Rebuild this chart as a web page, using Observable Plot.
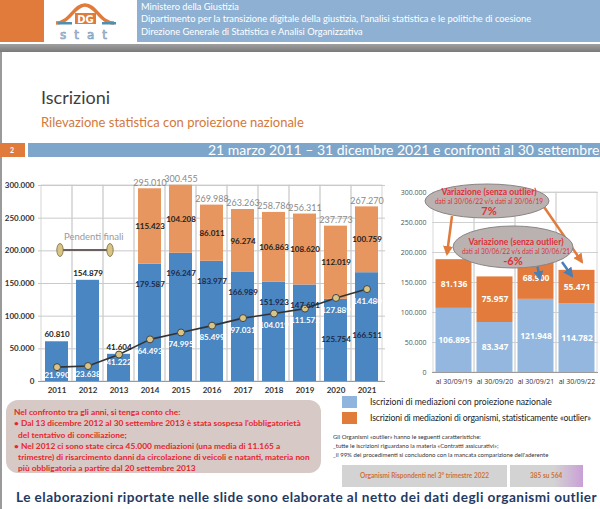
<!DOCTYPE html>
<html><head><meta charset="utf-8">
<script src="https://cdn.jsdelivr.net/npm/d3@7"></script>
<script src="https://cdn.jsdelivr.net/npm/@observablehq/plot@0.6"></script>
<style>
body{margin:0;background:#fff;}
#slide{position:relative;width:600px;height:509px;overflow:hidden;font-family:Lato,"Open Sans",sans-serif;background:#fff;}
.abs{position:absolute;white-space:nowrap;}
</style></head><body>
<div id="slide">
  <div class="abs" style="left:0;top:0;width:44px;height:42px;background:#e07b3c"></div>
  <svg class="abs" style="left:48px;top:1px" width="86" height="42" viewBox="0 0 86 42">
    <path d="M8,22 C22,22 26,4 37,4 C48,4 52,22 66,22" fill="none" stroke="#e07b3c" stroke-width="3.5"/>
    <rect x="10" y="21" width="14" height="2.5" fill="#4f8fb0"/>
    <rect x="54" y="21" width="14" height="2.5" fill="#4f8fb0"/>
    <rect x="27" y="12" width="21" height="11" fill="#e07b3c"/>
    <text x="37.5" y="21.5" text-anchor="middle" font-family="DejaVu Sans" font-weight="bold" font-size="10" fill="#fff">DG</text>
    <text x="12" y="38" font-family="DejaVu Sans" font-size="12" fill="#dce6ef" stroke="#7f9fbd" stroke-width="0.7" letter-spacing="8">stat</text>
  </svg>
  <div class="abs" style="left:137px;top:0;width:463px;height:42px;background:#8eb1d3;color:#fff;font-size:9.3px;line-height:12.3px;padding:1px 0 0 4px;box-sizing:border-box;overflow:hidden">
    Ministero della Giustizia<br>Dipartimento per la transizione digitale della giustizia, l'analisi statistica e le politiche di coesione<br>Direzione Generale di Statistica e Analisi Organizzativa
  </div>
  <div class="abs" style="left:0;top:44px;width:600px;height:8px;background:linear-gradient(#a0a0a0,#7a7a7a)"></div>
  <div class="abs" style="left:0;top:52px;width:2px;height:457px;background:#9a9a9a"></div>
  <div class="abs" style="left:41px;top:86px;font-size:18px;color:#3e3e3e">Iscrizioni</div>
  <div class="abs" style="left:41px;top:114px;font-size:13px;color:#d4783a">Rilevazione statistica con proiezione nazionale</div>
  <div class="abs" style="left:0;top:143px;width:25px;height:14px;background:#e07b3c;color:#fff;font-size:7px;font-weight:bold;line-height:14px;padding-left:10px;box-sizing:border-box">2</div>
  <div class="abs" style="left:28px;top:143px;width:572px;height:14px;background:#7ea6ca"></div>
  <div class="abs" style="left:208px;top:141px;color:#fff;font-size:14px;line-height:17px">21 marzo 2011 – 31 dicembre 2021 e confronti al 30 settembre</div>

  <div id="leftChart" class="abs" style="left:0;top:165px"></div>
  <div id="rightChart" class="abs" style="left:392px;top:180px"></div>

  <svg class="abs" style="left:0;top:0;pointer-events:none" width="600" height="509">
    <defs>
      <marker id="ao" viewBox="0 0 10 10" refX="8" refY="5" markerWidth="4" markerHeight="4" orient="auto"><path d="M0,0L10,5L0,10z" fill="#e07b3c"/></marker>
      <marker id="ab" viewBox="0 0 10 10" refX="8" refY="5" markerWidth="4" markerHeight="4" orient="auto"><path d="M0,0L10,5L0,10z" fill="#4a7fb5"/></marker>
    </defs>
    <text x="64" y="240" font-family="Lato" font-size="9.5" fill="#9a9a9a">Pendenti finali</text>
    <line x1="60" y1="250" x2="110" y2="250" stroke="#6a6060" stroke-width="2"/>
    <ellipse cx="60" cy="250" rx="3.2" ry="6.5" fill="#d8c485" stroke="#7a6a40" stroke-width="0.8"/>
    <ellipse cx="110" cy="250" rx="3.2" ry="6.5" fill="#d8c485" stroke="#7a6a40" stroke-width="0.8"/>

    <line x1="452" y1="216" x2="447" y2="254" stroke="#e07b3c" stroke-width="2.5" marker-end="url(#ao)"/>
    <line x1="542" y1="204" x2="582" y2="262" stroke="#e07b3c" stroke-width="2.5" marker-end="url(#ao)"/>
    <ellipse cx="487" cy="201" rx="62" ry="17" fill="#b9b2b0" stroke="#8a8585" stroke-width="1"/>
    <text x="489" y="195" text-anchor="middle" font-family="Lato" font-weight="bold" font-size="8.6" fill="#e0303a">Variazione (senza outlier)</text>
    <text x="489" y="204" text-anchor="middle" font-family="Lato" font-size="6.6" fill="#e0303a">dati al 30/06/22  v/s dati al 30/06/19</text>
    <text x="489" y="215" text-anchor="middle" font-family="Lato" font-weight="bold" font-size="11" fill="#e0303a">7%</text>

    <line x1="537" y1="264" x2="540" y2="279" stroke="#4a7fb5" stroke-width="2.5" marker-end="url(#ab)"/>
    <line x1="562" y1="262" x2="572" y2="276" stroke="#4a7fb5" stroke-width="2.5" marker-end="url(#ab)"/>
    <ellipse cx="513" cy="247" rx="60" ry="21" fill="#b9b2b0" stroke="#8a8585" stroke-width="1"/>
    <text x="516" y="245" text-anchor="middle" font-family="Lato" font-weight="bold" font-size="8.6" fill="#e0303a">Variazione (senza outlier)</text>
    <text x="516" y="254" text-anchor="middle" font-family="Lato" font-size="6.6" fill="#e0303a">dati al 30/06/22  v/s dati al 30/06/21</text>
    <text x="513" y="265" text-anchor="middle" font-family="Lato" font-weight="bold" font-size="11" fill="#e0303a">-6%</text>
  </svg>

  <div class="abs" style="left:342px;top:396px;width:15px;height:12px;background:#8fb5df"></div>
  <div class="abs" style="left:342px;top:412px;width:15px;height:12px;background:#e07b39"></div>
  <div class="abs" style="left:370px;top:396px;font-size:8.7px;color:#222">Iscrizioni di mediazioni con proiezione nazionale</div>
  <div class="abs" style="left:370px;top:412px;font-size:8.7px;color:#222;letter-spacing:-0.15px">Iscrizioni di mediazioni di organismi, statisticamente «outlier»</div>
  <div class="abs" style="left:333px;top:432px;font-size:6px;line-height:9px;color:#333">Gli Organismi «outlier» hanno le seguenti caratteristiche:<br>_tutte le iscrizioni riguardano la materia «Contratti assicurativi»;<br>_il 99% dei procedimenti  si concludono con la mancata comparizione dell'aderente</div>
  <div class="abs" style="left:342px;top:465px;width:165px;height:22px;background:#d3d3d3;color:#d0703a;font-size:6.5px;font-weight:bold;line-height:22px;text-align:center">Organismi Rispondenti nel  3° trimestre 2022</div>
  <div class="abs" style="left:510px;top:465px;width:73px;height:22px;background:linear-gradient(90deg,#d3d3d3 60%,#c9a0d6);color:#d0703a;font-size:6.5px;font-weight:bold;line-height:22px;padding-left:20px;box-sizing:border-box">385 su 564</div>

  <div class="abs" style="left:6px;top:400px;width:315px;height:73px;background:#d6c9c6;border-radius:12px;color:#e8262b;font-size:8.4px;font-weight:bold;line-height:11.3px;padding:7px 0 0 8px;box-sizing:border-box;white-space:nowrap;overflow:hidden">
    Nel confronto tra gli anni, si tenga conto che:<br>• Dal 13 dicembre 2012 al 30 settembre 2013 è stata sospesa l'obbligatorietà<br>&nbsp;&nbsp;del tentativo di conciliazione;<br>• Nel 2012 ci sono state circa 45.000 mediazioni (una media di 11.165 a<br>&nbsp;&nbsp;trimestre) di risarcimento danni da circolazione di veicoli e natanti, materia non<br>&nbsp;&nbsp;più obbligatoria a partire dal 20 settembre  2013
  </div>
  <div class="abs" style="left:16px;top:489px;font-size:13.6px;font-weight:bold;color:#1f3a64;letter-spacing:0.45px">Le elaborazioni riportate nelle slide sono elaborate al netto dei dati degli organismi outlier</div>
</div>
<script>
// ---- Left chart data (21 marzo 2011 – 31 dicembre 2021) ----
const years = ["2011","2012","2013","2014","2015","2016","2017","2018","2019","2020","2021"];
const nazionale = [60810,154879,41604,179587,196247,183977,166989,151923,147691,125754,166511];
const outlier = [0,0,0,115423,104208,86011,96274,106863,108620,112019,100759];
const totali = [60810,154879,41604,295010,300455,269988,263263,258786,256311,237773,267270];
const pendenti = [21990,23638,41222,64493,74995,85499,97031,104019,111572,127889,141480];
const yTicks = [0,50000,100000,150000,200000,250000,300000];

// ---- Right chart data (al 30 settembre) ----
const periodi = ["al 30/09/19","al 30/09/20","al 30/09/21","al 30/09/22"];
const nazionaleSett = [106895,83347,121948,114782];
const outlierSett = [81136,75957,68900,55471];

const fmt = d => d3.format(",")(d).replace(/,/g, ".");

const rows = years.map((year, i) => ({year, naz: nazionale[i], out: outlier[i], tot: totali[i], pend: pendenti[i]}));
const stacked = rows.filter(d => d.out > 0);
const single = rows.filter(d => d.out === 0);
const blueHigh = stacked.filter(d => d.naz - d.pend >= 30000);
const blueLow = stacked.filter(d => d.naz - d.pend < 30000);

const left = Plot.plot({
  width: 390, height: 238, marginLeft: 38, marginRight: 5, marginTop: 20, marginBottom: 22,
  style: {fontFamily: "Lato, sans-serif", fontSize: "8px", background: "transparent", overflow: "visible"},
  x: {domain: years, padding: 0, label: null},
  y: {domain: [0, 300000], label: null},
  marks: [
    Plot.ruleY(yTicks.slice(1), {stroke: "#bdbdbd", strokeWidth: 0.8}),
    Plot.barY(rows, {x: "year", y1: 0, y2: 300000, fill: "none", stroke: "#cacaca", strokeWidth: 0.8}),
    Plot.barY(rows, {x: "year", y1: 0, y2: "naz", fill: "#4a86c2", insetLeft: 4, insetRight: 4}),
    Plot.barY(stacked, {x: "year", y1: "naz", y2: "tot", fill: "#e8965f", insetLeft: 4, insetRight: 4}),
    Plot.ruleY([0], {stroke: "#9a9a9a"}),
    Plot.line(rows, {x: "year", y: "pend", stroke: "#333", strokeWidth: 1.6}),
    Plot.dot(rows, {x: "year", y: "pend", r: 3.5, fill: "#d8c485", stroke: "#444", strokeWidth: 1}),
    Plot.text(single, {x: "year", y: "naz", text: d => fmt(d.naz), dy: -7, fill: "#222", fontWeight: "bold"}),
    Plot.text(stacked, {x: "year", y: "tot", text: d => fmt(d.tot), dy: -6, fill: "#8a8a8a", fontSize: 9}),
    Plot.text(stacked, {x: "year", y: d => d.naz + d.out / 2, text: d => fmt(d.out), fill: "#1e1e1e", fontWeight: "bold"}),
    Plot.text(blueHigh, {x: "year", y: "naz", text: d => fmt(d.naz), dy: 20, fill: "#1c2a48", fontWeight: "bold"}),
    Plot.text(blueLow, {x: "year", y: d => d.pend / 2, text: d => fmt(d.naz), fill: "#1c2a48", fontWeight: "bold"}),
    Plot.text(single, {x: "year", y: "pend", text: d => fmt(d.pend), dy: 8, fill: "#fff", fontWeight: "bold"}),
    Plot.text(stacked, {x: "year", y: "pend", text: d => fmt(d.pend), dy: 12, fill: "#fff", fontWeight: "bold"}),
    Plot.axisY({ticks: yTicks, tickFormat: fmt, tickSize: 0, tickPadding: 4, fontWeight: "bold", fill: "#333"}),
    Plot.axisX({tickSize: 0, tickPadding: 6, fontWeight: "bold", fill: "#333"})
  ]
});
document.getElementById("leftChart").append(left);

const rowsR = periodi.map((p, i) => ({p, naz: nazionaleSett[i], out: outlierSett[i], tot: nazionaleSett[i] + outlierSett[i]}));
const right = Plot.plot({
  width: 208, height: 214, marginLeft: 40, marginRight: 2, marginTop: 12, marginBottom: 22,
  style: {fontFamily: "'Open Sans', sans-serif", fontSize: "7px", background: "transparent", overflow: "visible"},
  x: {domain: periodi, padding: 0, label: null},
  y: {domain: [0, 300000], label: null},
  marks: [
    Plot.ruleY(yTicks.slice(1), {stroke: "#c4c4c4", strokeWidth: 0.8}),
    Plot.barY(rowsR, {x: "p", y1: 0, y2: 300000, fill: "none", stroke: "#cfcfcf", strokeWidth: 0.8}),
    Plot.barY(rowsR, {x: "p", y1: 0, y2: "naz", fill: "#93b7de", insetLeft: 2.5, insetRight: 2.5}),
    Plot.barY(rowsR, {x: "p", y1: "naz", y2: "tot", fill: "#e27b3b", insetLeft: 2.5, insetRight: 2.5}),
    Plot.ruleY([0], {stroke: "#9a9a9a"}),
    Plot.text(rowsR, {x: "p", y: d => d.naz / 2, text: d => fmt(d.naz), fill: "#fff", fontWeight: "bold", fontSize: 8.5}),
    Plot.text(rowsR, {x: "p", y: d => d.naz + d.out / 2, text: d => fmt(d.out), fill: "#fff", fontWeight: "bold", fontSize: 8.5}),
    Plot.axisY({ticks: yTicks, tickFormat: fmt, tickSize: 0, tickPadding: 6, fill: "#555"}),
    Plot.axisX({tickSize: 0, tickPadding: 7, fill: "#333"})
  ]
});
document.getElementById("rightChart").append(right);
</script>
</body></html>
